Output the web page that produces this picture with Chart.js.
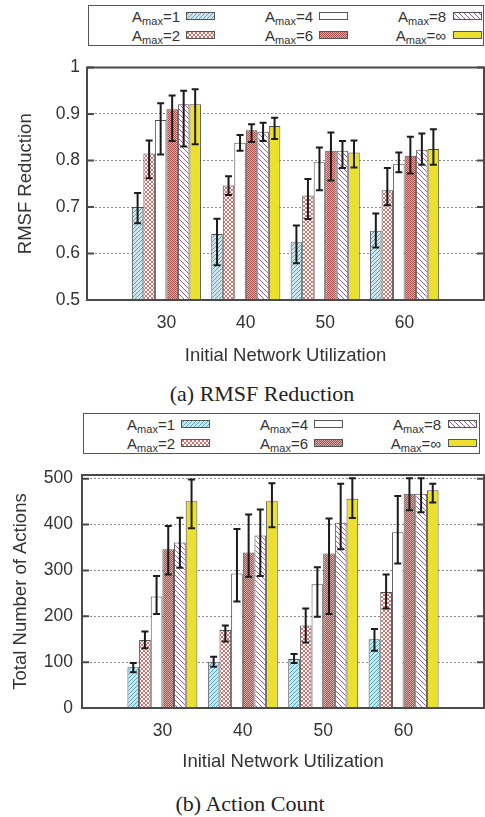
<!DOCTYPE html>
<html>
<head>
<meta charset="utf-8">
<script src="https://cdn.jsdelivr.net/npm/chart.js@4.4.1/dist/chart.umd.min.js"></script>
<style>
  body { margin: 0; background: #fff; }
  #page { position: relative; width: 485px; height: 817px; overflow: hidden;
          font-family: 'Liberation Sans', Arial, sans-serif; color: #333; }
  canvas.chart { position: absolute; left: 0; }
  .legend { position: absolute; border: 1px solid #555; box-sizing: border-box; background: #fff; }
  .legend .lab { position: absolute; font-size: 15px; line-height: 18px; white-space: nowrap;
                 transform: translate(-100%, -50%); }
  .legend .lab sub { font-size: 11px; vertical-align: -3px; line-height: 0; }
  .legend canvas { position: absolute; }
  .caption { position: absolute; font-family: 'Liberation Serif', 'Times New Roman', serif;
             font-size: 22px; line-height: 26px; white-space: nowrap; transform: translateX(-50%); color: #222; }
</style>
</head>
<body>
<div id="page">
  <div class="legend" id="legA" style="left:88px;top:5px;width:396px;height:41px"></div>
  <canvas class="chart" id="chartA" width="485" height="330" style="top:50px"></canvas>
  <div class="caption" style="left:262px;top:381px">(a) RMSF Reduction</div>

  <div class="legend" id="legB" style="left:83px;top:413px;width:397px;height:41px"></div>
  <canvas class="chart" id="chartB" width="485" height="330" style="top:455px"></canvas>
  <div class="caption" style="left:250px;top:791px">(b) Action Count</div>
</div>
<script>
const utilization = ['30', '40', '50', '60'];
const amax = ['1', '2', '4', '6', '8', '\u221e'];

// (a) RMSF reduction, rows follow amax
const rmsfTicks = [0.5, 0.6, 0.7, 0.8, 0.9, 1];
const rmsfMean = [
  [0.700, 0.642, 0.624, 0.649],
  [0.815, 0.746, 0.725, 0.736],
  [0.887, 0.838, 0.796, 0.793],
  [0.910, 0.865, 0.821, 0.810],
  [0.921, 0.862, 0.821, 0.823],
  [0.921, 0.874, 0.817, 0.825]
];
const rmsfLow = [
  [0.665, 0.575, 0.579, 0.613],
  [0.762, 0.726, 0.674, 0.704],
  [0.813, 0.821, 0.736, 0.775],
  [0.842, 0.840, 0.757, 0.772],
  [0.830, 0.842, 0.784, 0.791],
  [0.835, 0.846, 0.785, 0.791]
];
const rmsfHigh = [
  [0.730, 0.675, 0.660, 0.686],
  [0.843, 0.766, 0.760, 0.784],
  [0.923, 0.855, 0.828, 0.817],
  [0.940, 0.878, 0.860, 0.851],
  [0.950, 0.881, 0.842, 0.858],
  [0.953, 0.892, 0.843, 0.867]
];

// (b) total number of actions
const actionTicks = [0, 100, 200, 300, 400, 500];
const actionMean = [
  [89, 101, 107, 150],
  [148, 170, 180, 253],
  [243, 293, 270, 383],
  [346, 339, 337, 467],
  [361, 376, 404, 467],
  [451, 451, 456, 475]
];
const actionLow = [
  [78, 90, 98, 125],
  [130, 145, 143, 217],
  [205, 232, 199, 315],
  [291, 286, 205, 431],
  [306, 288, 346, 427],
  [392, 394, 414, 448]
];
const actionHigh = [
  [98, 112, 118, 172],
  [167, 180, 217, 291],
  [288, 390, 307, 462],
  [397, 422, 413, 501],
  [415, 433, 489, 501],
  [498, 490, 501, 489]
];

// gnuplot-like fill patterns
function tile(size, paint) {
  const c = document.createElement('canvas');
  c.width = c.height = size;
  paint(c.getContext('2d'), size);
  return c;
}
function diag(g, n, dir) {
  g.beginPath();
  for (let k = -n; k <= n; k += n) {
    if (dir > 0) { g.moveTo(k - 1, n + 1); g.lineTo(k + n + 1, -1); }
    else { g.moveTo(k - 1, -1); g.lineTo(k + n + 1, n + 1); }
  }
  g.stroke();
}
const tiles = [
  tile(4, (g, n) => { g.fillStyle = '#cbe8f0'; g.fillRect(0, 0, n, n); g.strokeStyle = '#55a4ba'; g.lineWidth = 1; diag(g, n, 1); }),
  tile(4, (g, n) => { g.fillStyle = '#fff'; g.fillRect(0, 0, n, n); g.strokeStyle = '#d2635c'; g.lineWidth = 0.9; diag(g, n, 1); diag(g, n, -1); }),
  null,
  tile(2, (g) => { g.fillStyle = '#dcaaa4'; g.fillRect(0, 0, 2, 2); g.fillStyle = '#a85250'; g.fillRect(0, 0, 1, 1); g.fillRect(1, 1, 1, 1); }),
  tile(5, (g, n) => { g.fillStyle = '#fff'; g.fillRect(0, 0, n, n); g.strokeStyle = '#9c5cb4'; g.lineWidth = 1; diag(g, n, -1); }),
  null
];
function fillFor(ctx, s) {
  if (s === 2) return '#ffffff';
  if (s === 5) return '#ece02e';
  return ctx.createPattern(tiles[s], 'repeat');
}

function buildLegend(id) {
  const box = document.getElementById(id);
  const textRight = [91, 224, 357], swLeft = [97, 230, 364];
  amax.forEach((a, s) => {
    const col = Math.floor(s / 2), row = s % 2;
    const lab = document.createElement('div');
    lab.className = 'lab';
    lab.innerHTML = 'A<sub>max</sub>=' + a;
    lab.style.left = textRight[col] + 'px';
    lab.style.top = (row ? 30 : 11) + 'px';
    box.appendChild(lab);
    const sw = document.createElement('canvas');
    sw.width = 29; sw.height = 8;
    sw.style.left = swLeft[col] + 'px';
    sw.style.top = (row ? 25 : 6) + 'px';
    const g = sw.getContext('2d');
    g.fillStyle = fillFor(g, s);
    g.fillRect(0, 0, 29, 8);
    g.strokeStyle = '#555'; g.lineWidth = 1;
    g.strokeRect(0.5, 0.5, 28, 7);
    box.appendChild(sw);
  });
}

const frame = {
  id: 'frame',
  afterDatasetsDraw(chart) {
    const { ctx, chartArea: a, scales: { y } } = chart;
    ctx.save();
    ctx.strokeStyle = '#1c1c1c';
    ctx.lineWidth = 2;
    chart.data.datasets.forEach((ds, s) => {
      chart.getDatasetMeta(s).data.forEach((bar, i) => {
        const top = y.getPixelForValue(ds.high[i]);
        const bot = y.getPixelForValue(ds.low[i]);
        ctx.beginPath();
        ctx.moveTo(bar.x, top); ctx.lineTo(bar.x, bot);
        ctx.moveTo(bar.x - 3.5, top); ctx.lineTo(bar.x + 3.5, top);
        ctx.moveTo(bar.x - 3.5, bot); ctx.lineTo(bar.x + 3.5, bot);
        ctx.stroke();
      });
    });
    ctx.strokeStyle = '#4a4a4a';
    ctx.lineWidth = 2;
    y.ticks.forEach(t => {
      const py = y.getPixelForValue(t.value);
      ctx.beginPath();
      ctx.moveTo(a.left, py); ctx.lineTo(a.left + 7, py);
      ctx.moveTo(a.right, py); ctx.lineTo(a.right - 7, py);
      ctx.stroke();
    });
    ctx.strokeRect(a.left, a.top, a.right - a.left, a.bottom - a.top);
    ctx.restore();
  }
};

function makeChart(id, mean, low, high, yTicks, yMin, yMax, yTitle, geo) {
  const el = document.getElementById(id);
  const ctx = el.getContext('2d');
  return new Chart(el, {
    type: 'bar',
    data: {
      datasets: amax.map((a, s) => ({
        label: 'Amax=' + a,
        data: utilization.map((u, i) => ({ x: i, y: mean[s][i] })),
        low: low[s],
        high: high[s],
        backgroundColor: fillFor(ctx, s),
        borderColor: '#505050',
        borderWidth: 1,
        base: yMin,
        categoryPercentage: 0.87,
        barPercentage: 1
      }))
    },
    options: {
      responsive: false,
      animation: false,
      layout: { padding: { top: geo.top, right: 1, left: 0, bottom: 0 } },
      plugins: { legend: { display: false }, tooltip: { enabled: false } },
      scales: {
        x: {
          type: 'linear', min: -1, max: 4, offset: false,
          grid: { display: false, drawTicks: false },
          border: { display: false },
          afterBuildTicks: sc => { sc.ticks = utilization.map((u, i) => ({ value: i })); },
          afterFit: sc => { sc.height = geo.xh; },
          ticks: { callback: v => utilization[v], padding: 13, autoSkip: false, maxRotation: 0,
                   font: { size: 17.5 }, color: '#333' },
          title: { display: true, text: 'Initial Network Utilization', font: { size: 18.5 }, color: '#333',
                   padding: { top: 0, bottom: geo.xtp } }
        },
        y: {
          min: yMin, max: yMax,
          afterBuildTicks: sc => { sc.ticks = yTicks.map(v => ({ value: v })); },
          afterFit: sc => { sc.width = geo.yw; },
          grid: { color: '#8c8c8c', lineWidth: 1, drawTicks: false },
          border: { display: false, dash: [2, 2] },
          ticks: { callback: v => String(v), padding: geo.ypad, font: { size: 17.5 }, color: '#333' },
          title: { display: true, text: yTitle, font: { size: 18.5 }, color: '#333',
                   padding: { top: geo.ytp, bottom: 0 } }
        }
      }
    },
    plugins: [frame]
  });
}

buildLegend('legA');
buildLegend('legB');
makeChart('chartA', rmsfMean, rmsfLow, rmsfHigh, rmsfTicks, 0.5, 1, 'RMSF Reduction',
  { top: 15, xh: 80, yw: 87, ypad: 7, ytp: 15, xtp: 13 });
makeChart('chartB', actionMean, actionLow, actionHigh, actionTicks, 0, 508, 'Total Number of Actions',
  { top: 20, xh: 77, yw: 82, ypad: 9, ytp: 10, xtp: 12 });
</script>
</body>
</html>
